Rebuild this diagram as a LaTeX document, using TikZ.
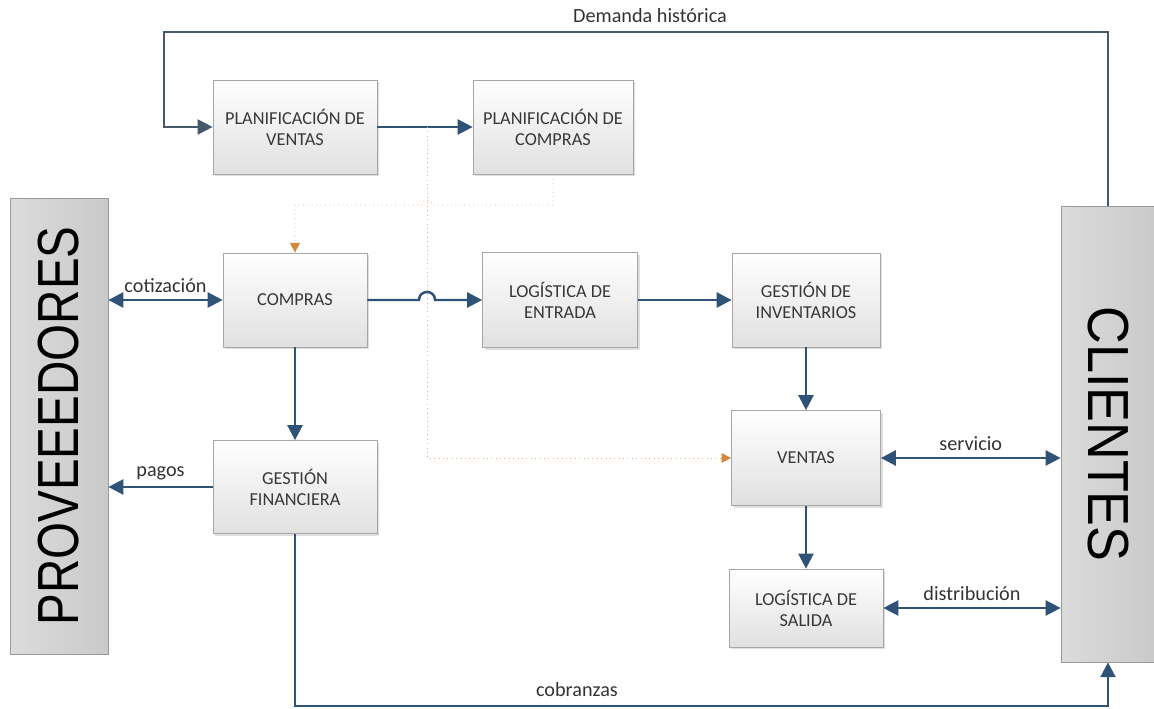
\documentclass[tikz,border=0pt]{standalone}
\usepackage{fontspec}
\setmainfont{Carlito}
\newfontfamily\sidefont{Liberation Sans}
\usepackage{tikz}
\usepackage{xcolor}
\usetikzlibrary{arrows.meta,shadows}
\definecolor{flowblue}{HTML}{2E5377}
\definecolor{histgray}{HTML}{46596B}
\definecolor{infoorange}{HTML}{D4883A}
\definecolor{boxtext}{HTML}{383838}
\definecolor{boxline}{HTML}{A6A6A6}
\definecolor{labeltext}{HTML}{333333}
\tikzset{
    process-box/.style = {draw=boxline, top color=white, bottom color=black!12, rectangle, align=center, text=boxtext, font=\fontsize{10.4}{12}\selectfont, drop shadow={shadow xshift=1.2pt, shadow yshift=-1.2pt, opacity=0.25}},
    side-box/.style = {draw=black!40, left color=black!14, right color=black!21, rectangle, inner sep=0pt, font=\sidefont\fontsize{33}{33}\selectfont},
    flow-label/.style = {text=labeltext, font=\fontsize{11.5}{13}\selectfont},
    flow-arrow/.style = {draw=flowblue, line width=1.4pt, -{Triangle[length=8.5pt,width=8.5pt]}},
    flow-both/.style = {flow-arrow, {Triangle[length=8.5pt,width=8.5pt]}-{Triangle[length=8.5pt,width=8.5pt]}},
    history-line/.style = {draw=histgray, line width=1.2pt, -{Triangle[length=8.5pt,width=8.5pt]}},
    info-line/.style = {draw=infoorange!65, line width=0.5pt, dotted, -{Triangle[length=5.5pt,width=5.5pt,fill=infoorange,color=infoorange]}},
}

\begin{document}
\begin{tikzpicture}[x=0.02cm, y=-0.02cm]
\useasboundingbox (0,0) rectangle (1154,709);

% actores externos
\node[side-box, minimum width=1.96cm, minimum height=9.12cm] (proveedores) at (59,426) {\rotatebox{90}{\scalebox{0.82}[1]{PROVEEEDORES}}};
\node[side-box, minimum width=1.88cm, minimum height=9.12cm] (clientes) at (1108,434) {\rotatebox{-90}{\scalebox{0.9}[1]{CLIENTES}}};

% procesos
\node[process-box, minimum width=3.28cm, minimum height=1.88cm] (plan-ventas) at (295,127) {PLANIFICACIÓN DE\\VENTAS};
\node[process-box, minimum width=3.2cm, minimum height=1.88cm] (plan-compras) at (553,127) {PLANIFICACIÓN DE\\COMPRAS};
\node[process-box, minimum width=2.88cm, minimum height=1.88cm] (compras) at (295,300) {COMPRAS};
\node[process-box, minimum width=3.1cm, minimum height=1.9cm] (log-entrada) at (560,300) {LOGÍSTICA DE\\ENTRADA};
\node[process-box, minimum width=2.96cm, minimum height=1.88cm] (gest-inv) at (806,300) {GESTIÓN DE\\INVENTARIOS};
\node[process-box, minimum width=3.28cm, minimum height=1.86cm] (gest-fin) at (295,487) {GESTIÓN\\FINANCIERA};
\node[process-box, minimum width=2.98cm, minimum height=1.9cm] (ventas) at (806,458) {VENTAS};
\node[process-box, minimum width=3.08cm, minimum height=1.56cm] (log-salida) at (806,608) {LOGÍSTICA DE\\SALIDA};

% demanda historica
\draw[history-line] (clientes.north) -- (1108,32) -| (164,127) -- (plan-ventas.west);
\node[flow-label] (demanda-label) at (650,16) {Demanda histórica};

\draw[flow-arrow] (plan-ventas) -- (plan-compras);
\coordinate (split) at (427,127);
\draw[info-line] (split) |- (ventas.west);
\draw[info-line] (plan-compras.south) -- (553,205) -- (432,205) .. controls (432,198.3) and (422,198.3) .. (422,205) -- (295,205) -- (compras.north);

\draw[flow-arrow] (compras.east) -- (419,300) .. controls (419,289.3) and (435,289.3) .. (435,300) -- (log-entrada.west);
\draw[flow-arrow] (log-entrada) -- (gest-inv);
\draw[flow-arrow] (gest-inv) -- (ventas);
\draw[flow-arrow] (ventas) -- (log-salida);
\draw[flow-arrow] (compras) -- (gest-fin);

\draw[flow-both] (proveedores.east |- compras.west) -- (compras.west) node[flow-label, midway, above] {cotización};
\draw[flow-arrow] (gest-fin.west) -- (gest-fin.west -| proveedores.east) node[flow-label, midway, above] {pagos};
\draw[flow-both] (ventas.east) -- (ventas.east -| clientes.west) node[flow-label, midway, above] {servicio};
\draw[flow-both] (log-salida.east) -- (log-salida.east -| clientes.west) node[flow-label, midway, above] {distribución};

% cobranzas
\draw[flow-arrow] (gest-fin.south) -- (295,706) -| (clientes.south);
\node[flow-label] (cobranzas-label) at (577,690) {cobranzas};
\end{tikzpicture}
\end{document}
